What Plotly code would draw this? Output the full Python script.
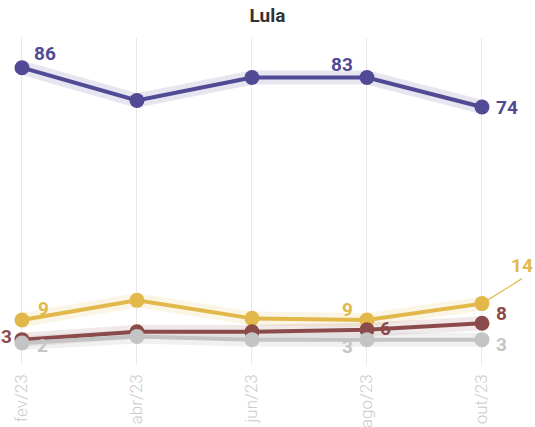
import plotly.graph_objects as go

# Survey waves
months = ["fev/23", "abr/23", "jun/23", "ago/23", "out/23"]

# Share of respondents (%) per group, one value per wave
lula = [86, 76, 83, 83, 74]
amarelo = [9, 15, 9.5, 9, 14]
vermelho = [3, 5.4, 5.4, 6, 8]
cinza = [2, 4, 3, 3, 3]

COLORS = {
    "lula": "#514a94",
    "amarelo": "#e2b84a",
    "vermelho": "#8c4b4b",
    "cinza": "#c4c4c4",
}
BANDS = {
    "lula": "rgba(81,74,148,0.14)",
    "amarelo": "rgba(226,184,74,0.14)",
    "vermelho": "rgba(140,75,75,0.12)",
    "cinza": "rgba(196,196,196,0.25)",
}

xs = list(range(len(months)))
series = [("lula", lula), ("amarelo", amarelo), ("vermelho", vermelho), ("cinza", cinza)]

fig = go.Figure()

# Soft band under each line
for key, vals in series:
    fig.add_trace(go.Scatter(
        x=xs, y=vals, mode="lines",
        line=dict(color=BANDS[key], width=14),
        hoverinfo="skip", showlegend=False,
    ))

# Lines with markers
for key, vals in series:
    fig.add_trace(go.Scatter(
        x=xs, y=vals, mode="lines+markers",
        line=dict(color=COLORS[key], width=4),
        marker=dict(color=COLORS[key], size=15),
        showlegend=False,
    ))

# Value labels: (series values, index, color, x shift px, y shift px, xanchor)
labels = [
    (lula, 0, "lula", 10, 14, "left"),
    (lula, 3, "lula", -12, 13, "right"),
    (lula, 4, "lula", 12, 0, "left"),
    (amarelo, 0, "amarelo", 14, 12, "left"),
    (amarelo, 3, "amarelo", -12, 11, "right"),
    (vermelho, 0, "vermelho", -8, 3, "right"),
    (vermelho, 3, "vermelho", 11, 1, "left"),
    (vermelho, 4, "vermelho", 12, 10, "left"),
    (cinza, 0, "cinza", 13, -3, "left"),
    (cinza, 3, "cinza", -12, -7, "right"),
    (cinza, 4, "cinza", 12, -5, "left"),
]
for vals, i, key, dx, dy, xa in labels:
    fig.add_annotation(
        x=xs[i], y=vals[i], text=f"<b>{round(vals[i])}</b>",
        showarrow=False, xshift=dx, yshift=dy, xanchor=xa, yanchor="middle",
        font=dict(family="Roboto", size=19, color=COLORS[key]),
    )

# Last yellow value sits off the point with a leader line
fig.add_annotation(
    x=xs[4], y=amarelo[4], text=f"<b>{amarelo[4]}</b>",
    showarrow=True, arrowhead=0, arrowwidth=1.2, arrowcolor=COLORS["amarelo"],
    ax=40, ay=-25, xanchor="center", yanchor="bottom", standoff=0,
    font=dict(family="Roboto", size=19, color=COLORS["amarelo"]),
)

fig.update_layout(
    width=535, height=427,
    margin=dict(l=0, r=0, t=38, b=62),
    paper_bgcolor="white", plot_bgcolor="white",
    title=dict(
        text="<b>Lula</b>", x=0.5, xanchor="center", y=1 - 15 / 427, yanchor="middle",
        font=dict(family="Roboto", size=19, color="#333333"),
    ),
    xaxis=dict(
        range=[-0.191, 4.461], tickvals=xs, ticktext=months, tickangle=-90,
        showgrid=True, gridcolor="#e8e8e8", gridwidth=1, zeroline=False,
        showline=False, ticks="", ticklabelstandoff=5, automargin=False,
        tickfont=dict(family="Roboto", size=17, color="#cccccc", weight=300),
    ),
    yaxis=dict(
        range=[-4.73, 95.06], showgrid=False, zeroline=False, automargin=False,
        showticklabels=False, showline=False, ticks="",
    ),
)

fig.write_html("out.html")
